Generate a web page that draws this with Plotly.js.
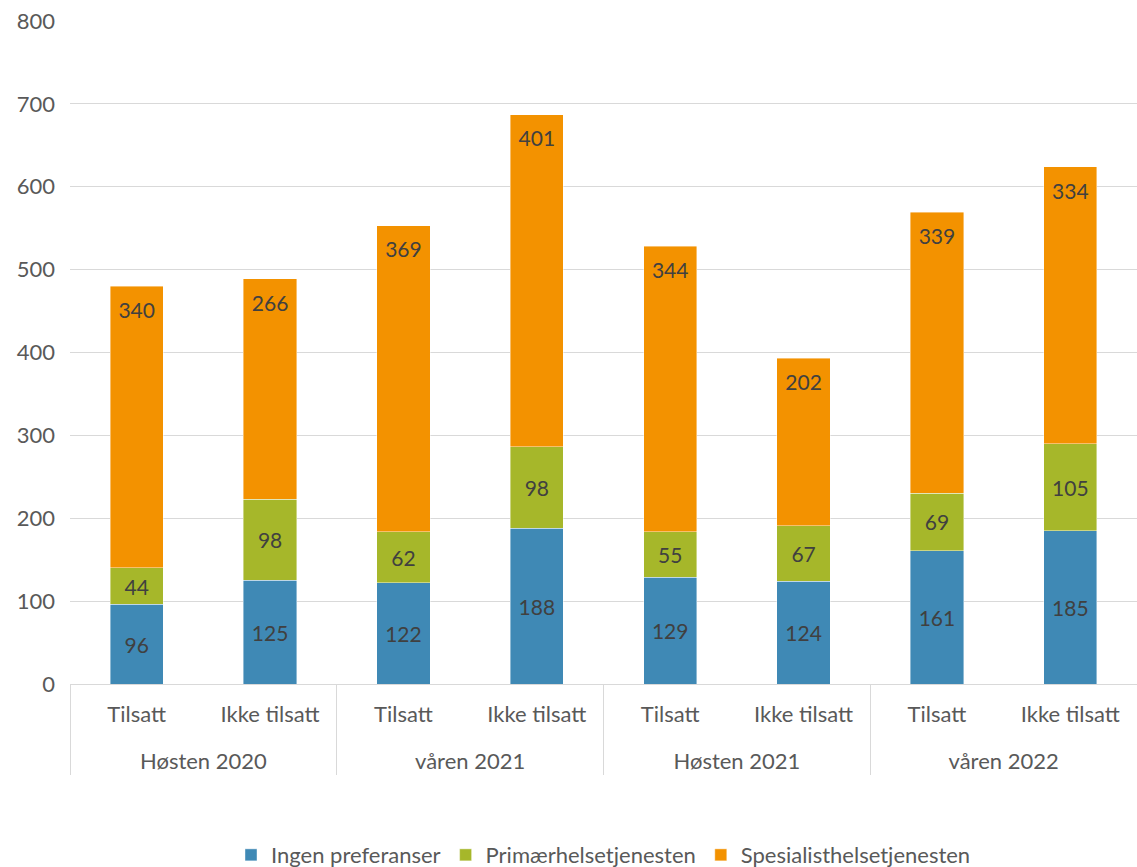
<!DOCTYPE html>
<html><head><meta charset="utf-8">
<script src="https://cdn.plot.ly/plotly-3.0.1.min.js"></script>
<style>body{margin:0;background:#fff}#c{width:1137px;height:867px}</style>
</head><body><div id="c"></div>
<script>
const groups = ["Høsten 2020","Høsten 2020","våren 2021","våren 2021","Høsten 2021","Høsten 2021","våren 2022","våren 2022"];
const subcats = ["Tilsatt","Ikke tilsatt","Tilsatt","Ikke tilsatt","Tilsatt","Ikke tilsatt","Tilsatt","Ikke tilsatt"];
const ingen = [96,125,122,188,129,124,161,185];
const primaer = [44,98,62,98,55,67,69,105];
const spesialist = [340,266,369,401,344,202,339,334];
const seriesNames = ["Ingen preferanser","Primærhelsetjenesten","Spesialisthelsetjenesten"];
const colors = ["#3F89B5","#A6B72A","#F39200"];

const font = "Lato, 'Open Sans', sans-serif";
const fs = 22;
// extra blank line under sub-labels to separate the two label rows
const subLabels = subcats.map(s => s + "<br>\u00a0");
const X = [groups, subLabels];
const vals = [ingen, primaer, spesialist];
const traces = vals.map((v,i)=>({
  type:"bar", name:seriesNames[i], x:X, y:v,
  marker:{color:colors[i], line:{color:"rgba(255,255,255,0.7)", width:0.6}},
  text: i<2 ? v.map(String) : undefined,
  textposition: i<2 ? "inside" : "none", insidetextanchor:"middle",
  textfont:{family:font,size:21,color:"#404040"}, constraintext:"none",
  hoverinfo:"y"
}));
// orange labels placed near the top of each bar (inside end)
const totals = ingen.map((v,i)=>v+primaer[i]+spesialist[i]);
traces.push({
  type:"scatter", mode:"text", x:X, y:totals.map(t=>t-32),
  text:spesialist.map(String), textposition:"middle center",
  textfont:{family:font,size:21,color:"#404040"},
  showlegend:false, hoverinfo:"skip", cliponaxis:false
});
const layout = {
  width:1137, height:867,
  margin:{l:70,r:0,t:21,b:183,autoexpand:false},
  barmode:"stack", bargap:0.6,
  paper_bgcolor:"#fff", plot_bgcolor:"#fff",
  font:{family:font,size:fs,color:"#595959"},
  xaxis:{type:"multicategory", automargin:false, showline:true, linecolor:"#d9d9d9", linewidth:1,
    showdividers:true, dividercolor:"#d9d9d9", dividerwidth:1,
    tickfont:{family:font,size:fs,color:"#595959"}, showgrid:false, zeroline:false,
    ticklabelstandoff:11},
  yaxis:{range:[0,800], dtick:100, automargin:false, showgrid:true, gridcolor:"#d9d9d9", gridwidth:1,
    zeroline:false, showline:false, tickfont:{family:font,size:fs,color:"#595959"}, ticklabelstandoff:14},
  legend:{orientation:"h", x:0.5, xanchor:"center", y:-0.258, yanchor:"middle",
    font:{family:font,size:fs,color:"#595959"}, traceorder:"normal", itemwidth:30},
  showlegend:true
};
Plotly.newPlot("c", traces, layout, {displayModeBar:false, staticPlot:true});
</script></body></html>
